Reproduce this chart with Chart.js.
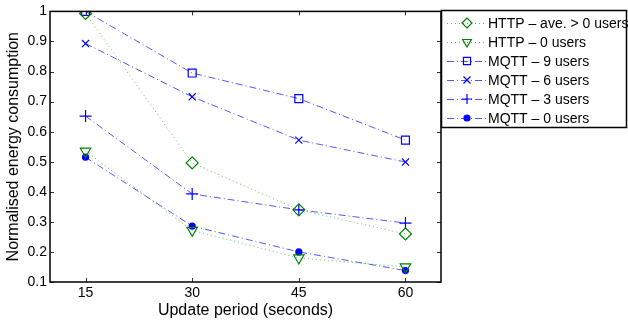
<!DOCTYPE html>
<html>
<head>
<meta charset="utf-8">
<script src="https://cdn.jsdelivr.net/npm/chart.js@4/dist/chart.umd.min.js"></script>
<style>
  html, body { margin: 0; padding: 0; background: #fff; }
  #wrap { width: 628px; height: 320px; }
</style>
</head>
<body>
<div id="wrap"><canvas id="chart"></canvas></div>
<script>
// --- Data ---
const periods = [15, 30, 45, 60];
const xTicks = [15, 30, 45, 60];
const yTicks = [0.1, 0.2, 0.3, 0.4, 0.5, 0.6, 0.7, 0.8, 0.9, 1];

const httpAvg = [0.993, 0.496, 0.34, 0.26];
const http0 = [0.535, 0.272, 0.18, 0.15];
const mqtt9 = [1.0, 0.795, 0.71, 0.572];
const mqtt6 = [0.893, 0.716, 0.572, 0.499];
const mqtt3 = [0.652, 0.393, 0.34, 0.296];
const mqtt0 = [0.515, 0.286, 0.2, 0.138];

const FONT = '"Liberation Sans", Arial, Helvetica, sans-serif';
const GREEN = '#008000';
const GREEN_LINE = 'rgba(0,160,0,0.65)';
const BLUE = '#0000ff';
const BLUE_LINE = 'rgba(30,30,255,0.75)';
const DOT = [1, 3];
const DASHDOT = [7, 3, 1, 3];

function series(label, values, color, lineColor, dash, style, radius, rotation, filled) {
    return {
        label: label,
        data: values.map((v, i) => ({ x: periods[i], y: v })),
        borderColor: lineColor,
        borderWidth: 1,
        borderDash: dash,
        pointStyle: style,
        pointRadius: radius,
        pointRotation: rotation || 0,
        pointBorderColor: color,
        pointBorderWidth: 1.2,
        pointBackgroundColor: filled ? color : 'rgba(0,0,0,0)',
        markerColor: color,
        fill: false,
        tension: 0
    };
}

const datasets = [
    series('HTTP \u2013 ave. > 0 users', httpAvg, GREEN, GREEN_LINE, DOT, 'rectRot', 6),
    series('HTTP \u2013 0 users', http0, GREEN, GREEN_LINE, DOT, 'triangle', 6, 180),
    series('MQTT \u2013 9 users', mqtt9, BLUE, BLUE_LINE, DASHDOT, 'rect', 5.6),
    series('MQTT \u2013 6 users', mqtt6, BLUE, BLUE_LINE, DASHDOT, 'crossRot', 5),
    series('MQTT \u2013 3 users', mqtt3, BLUE, BLUE_LINE, DASHDOT, 'cross', 6),
    series('MQTT \u2013 0 users', mqtt0, BLUE, BLUE_LINE, DASHDOT, 'circle', 3, 0, true)
];

// box around plot + inward tick marks (matlab style)
const frame = {
    id: 'frame',
    afterDraw(chart) {
        const { ctx, chartArea: a, scales } = chart;
        ctx.save();
        ctx.strokeStyle = '#333';
        ctx.lineWidth = 1;
        xTicks.forEach(v => {
            const px = Math.round(scales.x.getPixelForValue(v)) + 0.5;
            ctx.beginPath();
            ctx.moveTo(px, a.bottom); ctx.lineTo(px, a.bottom - 4);
            ctx.moveTo(px, a.top); ctx.lineTo(px, a.top + 4);
            ctx.stroke();
        });
        yTicks.forEach(v => {
            const py = Math.round(scales.y.getPixelForValue(v)) + 0.5;
            ctx.beginPath();
            ctx.moveTo(a.left, py); ctx.lineTo(a.left + 4, py);
            ctx.moveTo(a.right, py); ctx.lineTo(a.right - 4, py);
            ctx.stroke();
        });
        ctx.strokeStyle = '#000';
        ctx.lineWidth = 1.5;
        ctx.strokeRect(a.left, a.top, a.right - a.left, a.bottom - a.top);
        ctx.restore();
    }
};

// legend box drawn at the right, overlapping the plot edge
const boxLegend = {
    id: 'boxLegend',
    afterDraw(chart) {
        const ctx = chart.ctx;
        const x0 = 441, y0 = 10, w = 186, h = 118;
        ctx.save();
        ctx.fillStyle = '#fff';
        ctx.fillRect(x0, y0, w, h);
        ctx.strokeStyle = '#000';
        ctx.lineWidth = 1.5;
        ctx.strokeRect(x0 + 0.5, y0 + 0.5, w - 1, h - 1);
        chart.data.datasets.forEach((ds, i) => {
            const y = 23 + i * 19;
            ctx.save();
            ctx.strokeStyle = ds.borderColor;
            ctx.lineWidth = 1;
            ctx.setLineDash(ds.borderDash);
            ctx.beginPath();
            ctx.moveTo(447, y + 0.5);
            ctx.lineTo(486, y + 0.5);
            ctx.stroke();
            ctx.restore();
            ctx.save();
            ctx.strokeStyle = ds.markerColor;
            ctx.fillStyle = ds.pointBackgroundColor;
            ctx.lineWidth = 1.2;
            Chart.helpers.drawPoint(ctx, {
                pointStyle: ds.pointStyle,
                rotation: ds.pointRotation,
                radius: Math.min(ds.pointRadius, 5),
                borderWidth: 1.2
            }, 467, y);
            ctx.restore();
            ctx.fillStyle = '#000';
            ctx.font = '14px ' + FONT;
            ctx.textBaseline = 'middle';
            ctx.fillText(ds.label, 488, y + 1);
        });
        ctx.restore();
    }
};

new Chart(document.getElementById('chart'), {
    type: 'line',
    data: { datasets: datasets },
    options: {
        responsive: true,
        maintainAspectRatio: false,
        animation: false,
        layout: { padding: { top: 11, right: 187, left: 0, bottom: 0 } },
        plugins: {
            legend: { display: false },
            tooltip: { enabled: false }
        },
        scales: {
            x: {
                type: 'linear',
                min: 10,
                max: 65,
                afterBuildTicks: s => { s.ticks = xTicks.map(v => ({ value: v })); },
                afterFit: s => { s.height = 38; },
                grid: { display: false, drawTicks: false },
                border: { display: false },
                ticks: { color: '#000', padding: 3, font: { family: FONT, size: 14 } },
                title: {
                    display: true,
                    text: 'Update period (seconds)',
                    color: '#000',
                    padding: { top: 0, bottom: 0 },
                    font: { family: FONT, size: 16 }
                }
            },
            y: {
                min: 0.1,
                max: 1,
                afterBuildTicks: s => { s.ticks = yTicks.map(v => ({ value: v })); },
                afterFit: s => { s.width = 50; },
                grid: { display: false, drawTicks: false },
                border: { display: false },
                ticks: {
                    color: '#000',
                    padding: 3,
                    font: { family: FONT, size: 14 },
                    callback: v => String(+v.toFixed(1))
                },
                title: {
                    display: true,
                    text: 'Normalised energy consumption',
                    color: '#000',
                    padding: { top: 4, bottom: 4 },
                    font: { family: FONT, size: 16 }
                }
            }
        }
    },
    plugins: [frame, boxLegend]
});
</script>
</body>
</html>
